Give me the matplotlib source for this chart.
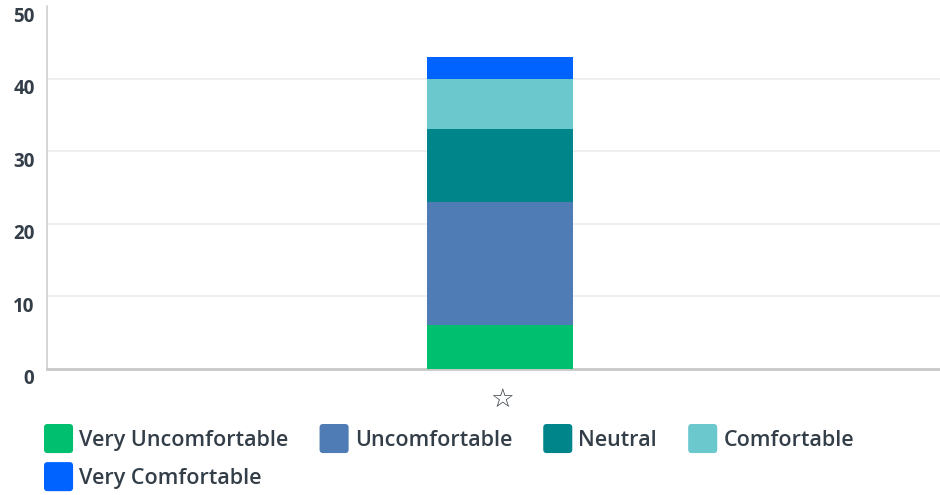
import matplotlib
matplotlib.use("Agg")
import matplotlib.pyplot as plt
from matplotlib.patches import Patch, FancyBboxPatch
from matplotlib.legend_handler import HandlerPatch
from matplotlib.transforms import ScaledTranslation

categories = ["☆"]
labels = ["Very Uncomfortable", "Uncomfortable", "Neutral", "Comfortable", "Very Comfortable"]
values = [6, 17, 10, 7, 3]
colors = ["#00bf6f", "#507cb6", "#00868a", "#6bc8cd", "#0062ff"]
yticks = [0, 10, 20, 30, 40, 50]

text_color = "#333e48"
plt.rcParams["font.family"] = ["Open Sans", "DejaVu Sans"]

fig = plt.figure(figsize=(9.4, 4.95), dpi=100)
ax = fig.add_axes([47 / 940, 1 - 369 / 495, 893 / 940, 363 / 495])

bottom = 0
for lab, val, col in zip(labels, values, colors):
    ax.bar(categories, [val], bottom=bottom, width=0.1635, color=col, label=lab, zorder=3)
    bottom += val

ax.set_xlim(-0.507, 0.493)
ax.set_ylim(0, 50)
ax.set_yticks(yticks)
ax.yaxis.grid(True, color="#ececec", linewidth=1.2, zorder=0)
ax.yaxis.get_gridlines()[-1].set_visible(False)

for side in ["top", "right"]:
    ax.spines[side].set_visible(False)
ax.spines["left"].set_color("#d0d0d0")
ax.spines["left"].set_linewidth(1.2)
ax.spines["bottom"].set_color("#c8c8c8")
ax.spines["bottom"].set_linewidth(2)

ax.tick_params(axis="y", length=0, pad=9, labelsize=13.5, labelcolor=text_color)
ax.tick_params(axis="x", length=0, pad=14, labelsize=19, labelcolor=text_color)
for lbl in ax.get_yticklabels():
    lbl.set_fontweight("bold")
    lbl.set_transform(lbl.get_transform() + ScaledTranslation(0, -0.08, fig.dpi_scale_trans))
for lbl in ax.get_xticklabels():
    lbl.set_family("DejaVu Sans")
    lbl.set_transform(lbl.get_transform() + ScaledTranslation(0.02, 0, fig.dpi_scale_trans))


def rounded_square(legend, orig_handle, xdescent, ydescent, width, height, fontsize):
    return FancyBboxPatch((-xdescent, -ydescent), width, height,
                          boxstyle="round,pad=0,rounding_size=2.5")


handles = [Patch(facecolor=c, edgecolor="none", label=l) for l, c in zip(labels, colors)]
# column-major fill: first column holds rows 1 and 2
order = [0, 4, 1, 2, 3]
leg = fig.legend([handles[i] for i in order], [labels[i] for i in order],
                 loc="upper left", bbox_to_anchor=(44 / 940, 1 - 424 / 495),
                 ncol=4, frameon=False, borderpad=0, borderaxespad=0,
                 handlelength=1.35, handleheight=1.70, handletextpad=0.28,
                 columnspacing=1.45, labelspacing=0.42,
                 prop={"size": 15.5, "weight": "semibold"},
                 handler_map={Patch: HandlerPatch(patch_func=rounded_square)})
for t in leg.get_texts():
    t.set_color(text_color)

fig.savefig("out.png", dpi=100)
